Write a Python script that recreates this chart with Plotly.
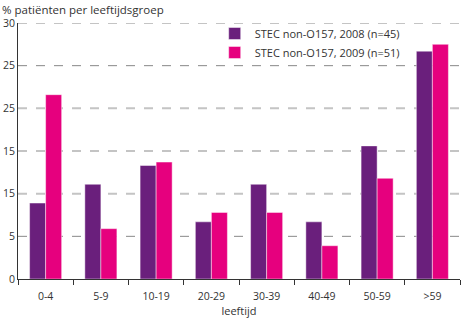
import plotly.graph_objects as go

# Leeftijdsgroepen en percentages per jaar
leeftijd = ["0-4", "5-9", "10-19", "20-29", "30-39", "40-49", "50-59", ">59"]
pct_2008 = [8.9, 11.1, 13.3, 6.7, 11.1, 6.7, 15.6, 26.7]
pct_2009 = [21.6, 5.9, 13.7, 7.8, 7.8, 3.9, 11.8, 27.5]

naam_2008 = "STEC non-O157, 2008 (n=45)"
naam_2009 = "STEC non-O157, 2009 (n=51)"

y_tickvals = [0, 5, 10, 15, 20, 25, 30]
y_ticktext = ["0", "5", "15", "15", "25", "25", "30"]

PAARS = "#6a1f7c"
ROZE = "#e6007e"
FONT = "Open Sans"
TEKST = "#333333"

fig = go.Figure()
fig.add_trace(go.Bar(
    x=leeftijd, y=pct_2008, name=naam_2008,
    marker=dict(color=PAARS, line=dict(color="rgba(255,255,255,0.45)", width=1)),
))
fig.add_trace(go.Bar(
    x=leeftijd, y=pct_2009, name=naam_2009,
    marker=dict(color=ROZE, line=dict(color="rgba(255,255,255,0.45)", width=1)),
))

# Gestippelde hulplijnen
for v in y_tickvals[1:]:
    donker = v in (5, 25)
    fig.add_shape(
        type="line", xref="paper", yref="y", x0=0, x1=1, y0=v, y1=v,
        line=dict(color="#888888" if donker else "#c4c4c4",
                  width=1 if donker else 2, dash="dash"),
        layer="below",
    )

TOP, BOTTOM, HEIGHT = 23, 43, 322
plot_h = HEIGHT - TOP - BOTTOM

fig.update_layout(
    width=464, height=HEIGHT,
    margin=dict(l=18, r=4, t=TOP, b=BOTTOM),
    paper_bgcolor="white", plot_bgcolor="white",
    barmode="group", bargap=0.42, bargroupgap=0,
    font=dict(family=FONT, size=10, color=TEKST),
    showlegend=True,
    legend=dict(
        x=0.445, y=1 + 4 / plot_h, xanchor="left", yanchor="top",
        bgcolor="rgba(0,0,0,0)", font=dict(size=11, color=TEKST),
        tracegroupgap=0, itemwidth=30,
    ),
    annotations=[
        dict(text="% patiënten per leeftijdsgroep", xref="paper", yref="paper",
             x=-0.04, y=1 + TOP / plot_h, xanchor="left", yanchor="top",
             showarrow=False, font=dict(size=11.5, color=TEKST)),
    ],
)

fig.update_xaxes(
    showline=True, linecolor="#333333", linewidth=1,
    ticks="outside", tickson="boundaries", ticklen=5, tickcolor="#333333",
    showgrid=False, ticklabelstandoff=7,
    title=dict(text="leeftijd", font=dict(size=11, color=TEKST), standoff=2),
    tickfont=dict(size=10.5, color=TEKST),
)
fig.update_yaxes(
    range=[0, 30], showline=True, linecolor="#333333", linewidth=1,
    showgrid=False, zeroline=False,
    tickvals=y_tickvals, ticktext=y_ticktext, ticks="",
    tickfont=dict(size=10.5, color=TEKST),
)

fig.write_html("out.html")
